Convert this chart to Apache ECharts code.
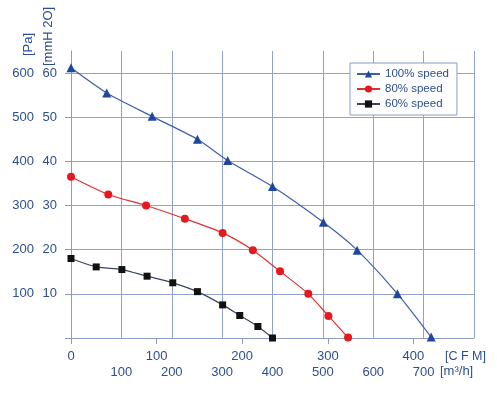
<!DOCTYPE html>
<html><head><meta charset="utf-8">
<script src="https://cdn.jsdelivr.net/npm/echarts@6/dist/echarts.min.js"></script>
<style>html,body{margin:0;padding:0;background:#fff}#c{width:497px;height:395px}</style>
</head><body><div id="c"></div>
<script>
// Airflow in m³/h, static pressure in Pa
const flow100 = [0, 71, 161, 251, 311, 400, 501, 568, 648, 715];
const pres100 = [612, 555, 502, 450, 402, 343, 262, 199, 100, 2];
const flow80 = [0, 74, 149, 226, 301, 361, 415, 471, 511, 550];
const pres80 = [365, 325, 300, 270, 238, 199, 151, 100, 50, 1];
const flow60 = [0, 50, 101, 151, 202, 251, 301, 335, 371, 400];
const pres60 = [180, 161, 155, 140, 125, 105, 75, 51, 26, 0];
const seriesNames = ['100% speed', '80% speed', '60% speed'];
const paTicks = [100, 200, 300, 400, 500, 600];
const mmTicks = [10, 20, 30, 40, 50, 60];
const m3hTicks = [100, 200, 300, 400, 500, 600, 700];
const cfmTicks = [0, 100, 200, 300, 400];
const M3H_PER_CFM = 1.699;

const txt = '#2d4f8e';
const gridC = '#8ea2cc';
const axisC = '#8a9cc2';
const font = 'Liberation Sans, Arial, sans-serif';
const pair = (xs, ys) => xs.map((x, i) => [x, ys[i]]);

const chart = echarts.init(document.getElementById('c'), null, {renderer: 'canvas'});
chart.setOption({
  animation: false,
  backgroundColor: '#fff',
  textStyle: {fontFamily: font},
  grid: {left: 71, right: 23, top: 51, bottom: 57},
  legend: {
    orient: 'vertical', left: 350, top: 63,
    backgroundColor: '#fff', borderColor: axisC, borderWidth: 1,
    padding: [5, 8, 5, 6], itemGap: 3, itemWidth: 23, itemHeight: 9, itemTextGap: 7,
    textStyle: {color: txt, fontSize: 11.5, fontFamily: font},
    data: seriesNames
  },
  xAxis: [{
    type: 'value', min: 0, max: 800, interval: 100, position: 'bottom',
    axisLine: {show: true, lineStyle: {color: axisC, width: 1}},
    axisTick: {show: false},
    splitLine: {show: true, lineStyle: {color: gridC, width: 1}},
    axisLabel: {customValues: m3hTicks, margin: 28, color: txt, fontSize: 13, fontFamily: font}
  }, {
    type: 'value', min: 0, max: 800 / M3H_PER_CFM, position: 'bottom',
    axisLine: {show: false},
    axisTick: {show: true, customValues: cfmTicks, length: 6, lineStyle: {color: axisC}},
    splitLine: {show: false},
    axisLabel: {customValues: cfmTicks, margin: 12, color: txt, fontSize: 13, fontFamily: font}
  }],
  yAxis: [{
    type: 'value', min: 0, max: 650, interval: 50, position: 'left',
    axisLine: {show: true, lineStyle: {color: axisC, width: 1}},
    axisTick: {show: true, customValues: [0].concat(paTicks), length: 6, lineStyle: {color: axisC}},
    splitLine: {show: true, lineStyle: {color: gridC, width: 1}},
    axisLabel: {customValues: paTicks, margin: 37, color: txt, fontSize: 13, fontFamily: font}
  }, {
    type: 'value', min: 0, max: 65, interval: 10, position: 'left',
    axisLine: {show: false}, axisTick: {show: false}, splitLine: {show: false},
    axisLabel: {customValues: mmTicks, margin: 14, color: txt, fontSize: 13, fontFamily: font}
  }],
  graphic: [
    {type: 'text', left: 440, top: 365, style: {text: '[m³/h]', fill: txt, font: '13px ' + font}},
    {type: 'text', left: 445, top: 350, style: {text: '[C F M]', fill: txt, font: '12.5px ' + font}},
    {type: 'text', x: 22, y: 56, rotation: Math.PI / 2, style: {text: '[Pa]', fill: txt, font: '13px ' + font}},
    {type: 'text', x: 42, y: 66, rotation: Math.PI / 2, style: {text: '[mmH 2O]', fill: txt, font: '13px ' + font}}
  ],
  series: [{
    name: seriesNames[0], type: 'line', xAxisIndex: 0, yAxisIndex: 0, smooth: 0.25,
    data: pair(flow100, pres100), symbol: 'triangle', symbolSize: 9,
    lineStyle: {color: '#3d5ea8', width: 1.2}, itemStyle: {color: '#1f47a0'}
  }, {
    name: seriesNames[1], type: 'line', xAxisIndex: 0, yAxisIndex: 0, smooth: 0.25,
    data: pair(flow80, pres80), symbol: 'circle', symbolSize: 8,
    lineStyle: {color: '#e0302c', width: 1.2}, itemStyle: {color: '#e3191f'}
  }, {
    name: seriesNames[2], type: 'line', xAxisIndex: 0, yAxisIndex: 0, smooth: 0.25,
    data: pair(flow60, pres60), symbol: 'rect', symbolSize: 7,
    lineStyle: {color: '#3a4560', width: 1.2}, itemStyle: {color: '#111'}
  }]
});
</script></body></html>
